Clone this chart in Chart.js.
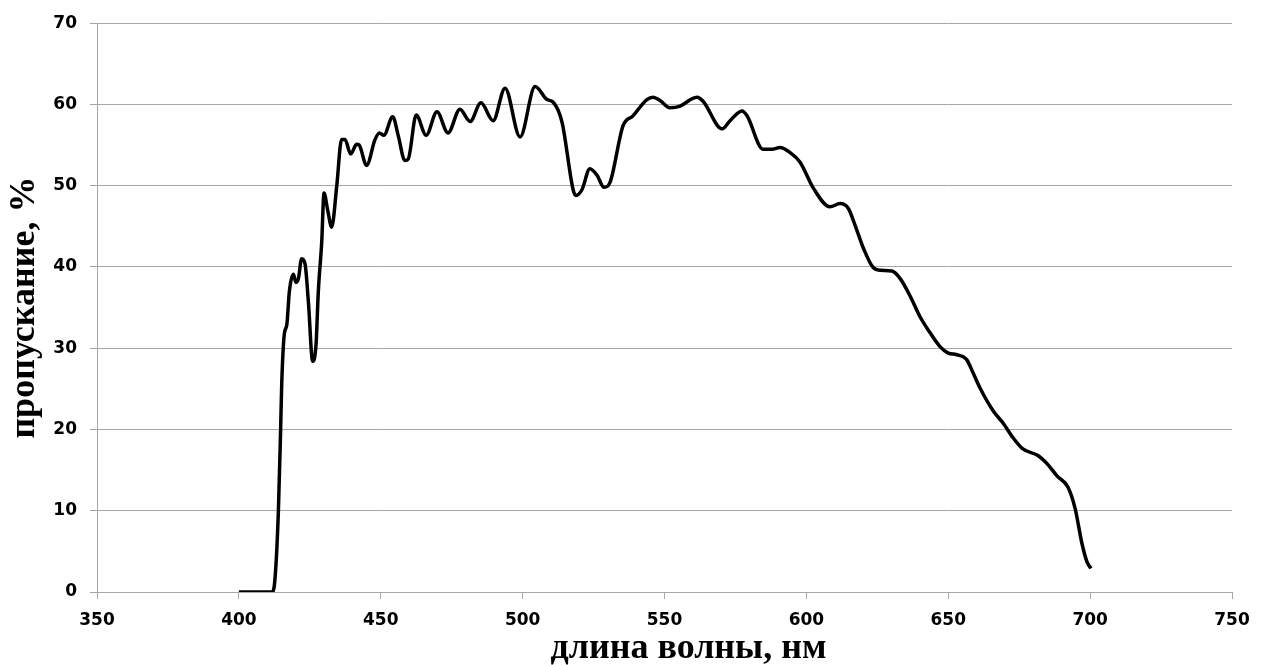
<!DOCTYPE html>
<html>
<head>
<meta charset="utf-8">
<script src="https://cdn.jsdelivr.net/npm/chart.js@4"></script>
<style>
  body { margin: 0; background: #fff; }
  #wrap { width: 1264px; height: 665px; }
</style>
</head>
<body>
<div id="wrap"><canvas id="graph"></canvas></div>
<script>
// Spectrum: wavelength (nm) and transmission (%)
const wavelength = [
  400, 411.6, 412.7, 413.9, 414.7, 415.1, 416, 416.9, 417.8, 419.2,
  420.1, 421, 422.1, 423.3, 424.5, 426, 427.2, 428, 429.2, 430,
  431.3, 432.7, 434.5, 436.2, 437.4, 439.4, 441.5, 442.4, 445, 448,
  449.5, 451.1, 454.2, 456.2, 458.5, 459.7, 462.5, 466, 469.8, 473.7,
  477.9, 481.5, 485.3, 489.6, 493.8, 499.1, 504.4, 508.6, 510.7, 513.9,
  517.8, 518.8, 520.9, 523.7, 526.2, 528.7, 530.8, 535.4, 538.9, 543.8,
  546, 548.4, 551.9, 555.5, 559.7, 561.5, 563.6, 570.3, 573.1, 577.3,
  579.1, 584.7, 587.9, 590.7, 594.2, 597.8, 602.3, 608.3, 611.9, 614.8,
  617.2, 620.1, 623.6, 626, 630.1, 633, 636.6, 640, 643.6, 647.1,
  650, 653, 656.5, 658.7, 661.2, 665.8, 669.3, 672.8, 676.3, 681.6,
  684.8, 688.3, 692.2, 694.7, 697.1, 698.9, 700.3
];
const transmission = [
  0, 0, 1.5, 9.7, 19.8, 25.6, 31.7, 32.9, 37, 39.1,
  38.1, 38.6, 41, 40.4, 35.7, 28.4, 30.5, 37, 43.1, 49.1,
  47, 44.9, 50, 55.7, 55.7, 53.9, 55.1, 55, 52.5, 55.7,
  56.5, 56.2, 58.5, 56.1, 53.1, 53.3, 58.7, 56.2, 59.1, 56.5,
  59.4, 57.9, 60.2, 58.0, 62, 56, 62.2, 60.6, 60.3, 57.8,
  49.5, 48.8, 49.5, 52.1, 51.3, 49.8, 50.4, 57.4, 58.6, 60.6,
  60.9, 60.5, 59.6, 59.8, 60.7, 60.9, 60.4, 57.0, 58.0, 59.2,
  58.6, 54.5, 54.5, 54.7, 54.1, 52.9, 49.8, 47.4, 47.8, 47.2,
  45.1, 42.3, 39.9, 39.6, 39.5, 38.6, 36.4, 33.9, 31.9, 30.2,
  29.4, 29.2, 28.6, 27.0, 25.1, 22.3, 20.8, 19.0, 17.6, 16.8,
  15.8, 14.3, 12.9, 10.3, 6.0, 3.7, 2.9
];

const xTickValues = [350, 400, 450, 500, 550, 600, 650, 700, 750];
const yTickValues = [0, 10, 20, 30, 40, 50, 60, 70];

const xTitle = 'длина волны, нм';
const yTitle = 'пропускание, %';

const gridColor = '#a6a6a6';
const tickFont = { family: 'DejaVu Sans', size: 17, weight: 'bold' };
const titleFont = { family: 'Liberation Serif', size: 36, weight: 'bold' };

const points = wavelength.map((w, i) => ({ x: w, y: transmission[i] }));

// x axis title sits a little right of centre in the original
const xTitlePlugin = {
  id: 'xTitle',
  afterDraw(chart) {
    const ctx = chart.ctx;
    const xs = chart.scales.x;
    ctx.save();
    ctx.font = 'bold 36px "Liberation Serif"';
    ctx.fillStyle = '#000';
    ctx.textAlign = 'center';
    ctx.textBaseline = 'alphabetic';
    ctx.fillText(xTitle, (xs.left + xs.right) / 2 + 24, chart.height - 7);
    ctx.restore();
  }
};

const ctx = document.getElementById('graph').getContext('2d');
new Chart(ctx, {
  type: 'line',
  data: {
    datasets: [{
      data: points,
      borderColor: '#000',
      borderWidth: 3.5,
      pointRadius: 0,
      fill: false,
      cubicInterpolationMode: 'monotone'
    }]
  },
  options: {
    responsive: true,
    maintainAspectRatio: false,
    animation: false,
    layout: { padding: { left: 0, right: 32, top: 20, bottom: 0 } },
    scales: {
      x: {
        type: 'linear',
        min: 350,
        max: 750,
        afterBuildTicks: s => { s.ticks = xTickValues.map(v => ({ value: v })); },
        afterFit: s => { s.height = 73; },
        grid: {
          drawOnChartArea: false,
          drawTicks: true,
          tickLength: 7,
          color: gridColor
        },
        border: { display: true, color: gridColor, width: 1 },
        ticks: { color: '#000', font: tickFont, padding: 11, maxRotation: 0 }
      },
      y: {
        min: 0,
        max: 70,
        afterBuildTicks: s => { s.ticks = yTickValues.map(v => ({ value: v })); },
        afterFit: s => { s.width = 97; },
        grid: {
          drawTicks: true,
          tickLength: 7,
          color: gridColor
        },
        border: { display: true, color: gridColor, width: 1 },
        ticks: { color: '#000', font: tickFont, padding: 13 },
        title: {
          display: true,
          text: yTitle,
          color: '#000',
          font: titleFont,
          padding: { top: 3, bottom: 0 }
        }
      }
    },
    plugins: {
      legend: { display: false },
      tooltip: { enabled: false },
      title: { display: false }
    }
  },
  plugins: [xTitlePlugin]
});
</script>
</body>
</html>
